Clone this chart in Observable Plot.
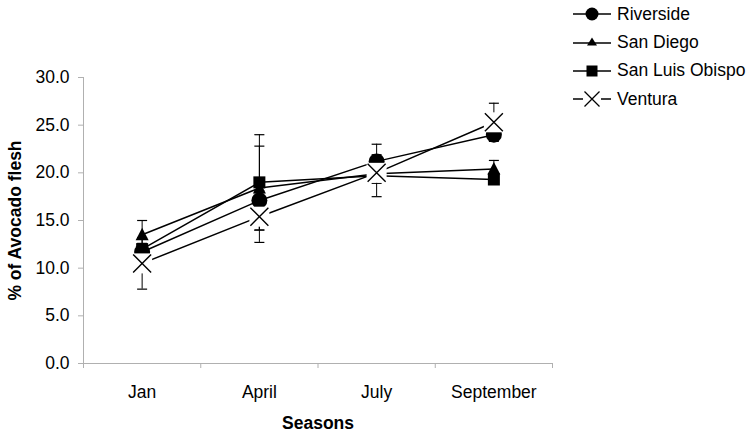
<!DOCTYPE html>
<html>
<head>
<meta charset="utf-8">
<script src="https://cdn.jsdelivr.net/npm/d3@7"></script>
<script src="https://cdn.jsdelivr.net/npm/@observablehq/plot@0.6"></script>
<style>
  html, body { margin: 0; padding: 0; background: #fff; }
  #wrap { position: relative; width: 753px; height: 436px; font-family: "Liberation Sans", Arial, sans-serif; }
  #legend { position: absolute; left: 573px; top: 0px; }
  .row { display: flex; align-items: center; height: 28.4px; font-size: 17.5px; color: #000; }
  .row svg { margin-right: 6px; }
</style>
</head>
<body>
<div id="wrap"><div id="chart"></div><div id="legend"></div></div>
<script>
// ---- data ----
const seasons = ["Jan", "April", "July", "September"];
const seriesNames = ["Riverside", "San Diego", "San Luis Obispo", "Ventura"];
const riverside = [11.7, 17.1, 21.2, 24.0];
const riversideErr = [0.9, 0.8, 1.8, 0.5];
const sanDiego = [13.5, 18.4, 19.9, 20.4];
const sanDiegoErr = [1.5, 4.4, 0.5, 0.9];
const sanLuisObispo = [12.0, 19.0, 19.7, 19.3];
const sanLuisObispoErr = [0.5, 5.0, 2.2, 0.4];
const ventura = [10.5, 15.4, 20.0, 25.3];
const venturaErr = [2.7, 2.7, 1.1, 2.0];
const yTicks = [0, 5, 10, 15, 20, 25, 30];

// ---- symbols ----
const circleSym = {draw(c) { c.moveTo(8, 0); c.arc(0, 0, 8, 0, 2 * Math.PI); }};
const triSym = {draw(c) { c.moveTo(0, -7); c.lineTo(6.5, 5.5); c.lineTo(-6.5, 5.5); c.closePath(); }};
const squareSym = {draw(c) { c.rect(-6, -6, 12, 12); }};
const crossSym = {draw(c) { c.moveTo(-9, -9); c.lineTo(9, 9); c.moveTo(9, -9); c.lineTo(-9, 9); }};
const boxSym = {draw(c) { c.rect(-10, -10, 20, 20); }};
const capSym = {draw(c) { c.moveTo(-5, 0); c.lineTo(5, 0); }};

const valuesList = [riverside, sanDiego, sanLuisObispo, ventura];
const errList = [riversideErr, sanDiegoErr, sanLuisObispoErr, venturaErr];
const rows = seriesNames.flatMap((name, k) =>
  seasons.map((m, i) => ({series: name, k, i, v: valuesList[k][i], e: errList[k][i]})));
const bySeries = (name) => rows.filter(d => d.series === name);

const boundaries = d3.range(seasons.length + 1).map(j => j - 0.5);

const plot = Plot.plot({
  width: 753,
  height: 436,
  marginLeft: 83,
  marginRight: 201,
  marginTop: 77,
  marginBottom: 73,
  style: {fontFamily: "'Liberation Sans', Arial, sans-serif", fontSize: "17.5px", color: "#000", background: "#fff"},
  x: {domain: [-0.5, seasons.length - 0.5]},
  y: {domain: [0, 30]},
  marks: [
    Plot.axisY({ticks: yTicks, tickFormat: d3.format(".1f"), tickSize: 5, tickPadding: 9, stroke: "#b0b0b0", fill: "#000", label: null}),
    Plot.axisX({ticks: boundaries, tickFormat: () => "", tickSize: 5, stroke: "#b0b0b0", label: null}),
    Plot.axisX({ticks: d3.range(seasons.length), tickFormat: i => seasons[i], tickSize: 0, tickPadding: 22, fill: "#000", label: null}),
    Plot.ruleX([-0.5], {stroke: "#b0b0b0", strokeWidth: 1}),
    Plot.ruleY([0], {stroke: "#b0b0b0", strokeWidth: 1}),
    // error bars
    Plot.ruleX(rows, {x: "i", y1: d => d.v - d.e, y2: d => d.v + d.e, stroke: "#000", strokeWidth: 1}),
    Plot.dot(rows, {x: "i", y: d => d.v + d.e, symbol: capSym, stroke: "#000", strokeWidth: 1.2, fill: "none"}),
    Plot.dot(rows, {x: "i", y: d => d.v - d.e, symbol: capSym, stroke: "#000", strokeWidth: 1.2, fill: "none"}),
    // lines
    Plot.line(rows, {x: "i", y: "v", z: "series", stroke: "#000", strokeWidth: 1.5}),
    // markers
    Plot.dot(bySeries("Riverside"), {x: "i", y: "v", symbol: circleSym, fill: "#000", stroke: "none"}),
    Plot.dot(bySeries("San Diego"), {x: "i", y: "v", symbol: triSym, fill: "#000", stroke: "none"}),
    Plot.dot(bySeries("San Luis Obispo"), {x: "i", y: "v", symbol: squareSym, fill: "#000", stroke: "none"}),
    Plot.dot(bySeries("Ventura"), {x: "i", y: "v", symbol: boxSym, fill: "#fff", stroke: "none"}),
    Plot.dot(bySeries("Ventura"), {x: "i", y: "v", symbol: crossSym, fill: "none", stroke: "#000", strokeWidth: 1.4}),
    // axis titles
    Plot.text(["% of Avocado flesh"], {frameAnchor: "left", rotate: -90, dx: -68, textAnchor: "middle", fontWeight: "bold", fontSize: 17.5, lineAnchor: "middle", fill: "#000"}),
    Plot.text(["Seasons"], {frameAnchor: "bottom", dy: 60, fontWeight: "bold", fontSize: 17.5, lineAnchor: "middle", fill: "#000"})
  ]
});
document.getElementById("chart").append(plot);

// ---- legend ----
const legendMarkers = {
  "Riverside": '<circle cx="19" cy="10" r="6.5" fill="#000"/>',
  "San Diego": '<path d="M19,4.5 L24,12.5 L14,12.5 Z" fill="#000"/>',
  "San Luis Obispo": '<rect x="13.5" y="4.5" width="11" height="11" fill="#000"/>',
  "Ventura": '<rect x="10" y="1" width="18" height="18" fill="#fff"/><path d="M11.5,2.5 L26.5,17.5 M26.5,2.5 L11.5,17.5" stroke="#000" stroke-width="1.3"/>'
};
const legend = document.getElementById("legend");
seriesNames.forEach(name => {
  const row = document.createElement("div");
  row.className = "row";
  row.innerHTML = '<svg width="38" height="20"><line x1="0" x2="38" y1="10" y2="10" stroke="#000" stroke-width="1.5"/>' +
    legendMarkers[name] + '</svg><span>' + name + '</span>';
  legend.append(row);
});
</script>
</body>
</html>
